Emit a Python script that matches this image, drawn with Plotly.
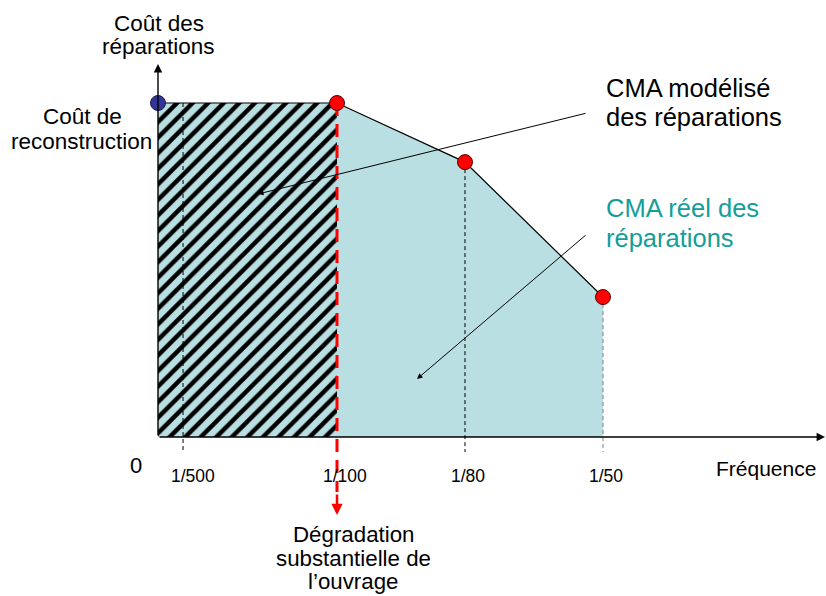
import plotly.graph_objects as go

# ---------------- data ----------------
freq_labels = ["1/500", "1/100", "1/80", "1/50"]
freq_pos = [0.14, 1.0, 1.715, 2.486]          # schematic positions on the frequency axis
reconstruction_cost = 1.0                      # cost at frequency 0
repair_cost = [1.0, 0.823, 0.419]              # real CMA at 1/100, 1/80, 1/50
model_cost = 1.0                               # modelled CMA (flat up to 1/100)

# ---------------- styles ----------------
W, H = 826, 596
X0, XU = 158, 179      # pixel of origin, pixels per x unit
Y0, YU = 437, 334      # pixel of origin, pixels per y unit
FONT = "Liberation Sans, Arial, sans-serif"
FILL = "#B9DFE2"
TEAL = "#129E99"
tick_ext = -0.045
red_ext = -0.165


def paper(px, py):
    return px / W, 1 - py / H


fig = go.Figure()

# real CMA area (light blue)
fx = [0, 0] + freq_pos[1:] + [freq_pos[-1]]
fy = [0, reconstruction_cost] + repair_cost + [0]
fig.add_trace(go.Scatter(x=fx, y=fy, fill="toself", fillcolor=FILL, mode="none",
                         hoverinfo="skip", showlegend=False))

# modelled CMA (hatched rectangle)
hx = [0, 0, freq_pos[1], freq_pos[1], 0]
hy = [0, model_cost, model_cost, 0, 0]
fig.add_trace(go.Scatter(x=hx, y=hy, fill="toself", fillcolor=FILL, mode="none",
                         fillpattern=dict(shape="/", fgcolor="#000000", bgcolor=FILL,
                                          fgopacity=1, size=11, solidity=0.4),
                         hoverinfo="skip", showlegend=False))

# dashed reference lines
for i, (xp, yv) in enumerate([(freq_pos[0], model_cost),
                              (freq_pos[2], repair_cost[1]),
                              (freq_pos[3], repair_cost[2])]):
    fig.add_trace(go.Scatter(x=[xp, xp], y=[yv, tick_ext], mode="lines",
                             line=dict(color="#000000" if i < 2 else "#808080",
                                       width=1, dash="4px,3px"),
                             hoverinfo="skip", showlegend=False))

# cost curve
cx = [0] + freq_pos[1:]
cy = [reconstruction_cost] + repair_cost
fig.add_trace(go.Scatter(x=cx, y=cy, mode="lines", line=dict(color="black", width=1.2),
                         hoverinfo="skip", showlegend=False))

# red dashed line at 1/100
fig.add_trace(go.Scatter(x=[freq_pos[1], freq_pos[1]], y=[repair_cost[0], red_ext],
                         mode="lines", line=dict(color="#FF0000", width=3, dash="13px,8px"),
                         hoverinfo="skip", showlegend=False))

# points
fig.add_trace(go.Scatter(x=[0], y=[reconstruction_cost], mode="markers",
                         marker=dict(size=15, color="#333399", line=dict(color="#1a1a4d", width=1)),
                         hoverinfo="skip", showlegend=False))
fig.add_trace(go.Scatter(x=freq_pos[1:], y=repair_cost, mode="markers",
                         marker=dict(size=15, color="#FF0000", line=dict(color="#5a0000", width=1)),
                         hoverinfo="skip", showlegend=False))

ann = []


def text(s, px, py, size, color="black", xanchor="center"):
    x, y = paper(px, py)
    ann.append(dict(text=s, x=x, y=y, xref="paper", yref="paper", showarrow=False,
                    xanchor=xanchor, yanchor="middle",
                    font=dict(family=FONT, size=size, color=color)))


def arrow(hx_, hy_, tx, ty, color="black", width=1.0, head=2, size=1.0):
    x, y = paper(hx_, hy_)
    ann.append(dict(text="", x=x, y=y, xref="paper", yref="paper", showarrow=True,
                    ax=tx - hx_, ay=ty - hy_, arrowhead=head, arrowsize=size,
                    arrowwidth=width, arrowcolor=color, standoff=0, startstandoff=0))


# axes
arrow(158, 64, 158, 437, width=1.4, head=2, size=1.2)
arrow(825, 437, 158, 437, width=1.4, head=2, size=1.2)
# red arrow head
arrow(337, 515, 337, 493, color="#FF0000", width=2.5, head=2, size=0.9)
# pointers
arrow(258, 194, 587, 113, width=1, head=2, size=1.1)
arrow(417, 379, 587, 234, width=1, head=2, size=1.1)

# labels
text("Coût des", 159, 24, 22.5)
text("réparations", 158, 47, 22.5)
text("Coût de", 82, 116, 22.5)
text("reconstruction", 81, 141, 22.5)
text("0", 136, 465, 22)
tick_px = [193, 345, 468, 606]
for lab, tp in zip(freq_labels, tick_px):
    text(lab, tp, 476, 17.5)
text("Fréquence", 766, 468, 21)
text("CMA modélisé", 604, 88, 25.5, xanchor="left")
text("des réparations", 604, 117, 25.5, xanchor="left")
text("CMA réel des", 604, 208, 25.5, color=TEAL, xanchor="left")
text("réparations", 604, 238, 25.5, color=TEAL, xanchor="left")
text("Dégradation", 353, 534, 22.3)
text("substantielle de", 353, 558, 22.3)
text("l’ouvrage", 353, 581, 22.3)

fig.update_layout(
    width=W, height=H, autosize=False,
    margin=dict(l=0, r=0, t=0, b=0),
    paper_bgcolor="white", plot_bgcolor="white",
    xaxis=dict(range=[(0 - X0) / XU, (W - X0) / XU], visible=False, fixedrange=True),
    yaxis=dict(range=[(Y0 - H) / YU, Y0 / YU], visible=False, fixedrange=True),
    annotations=ann,
    showlegend=False,
)

fig.write_html("out.html", config={"displayModeBar": False},
               post_script="document.body.style.margin='0';document.body.style.overflow='hidden';")
